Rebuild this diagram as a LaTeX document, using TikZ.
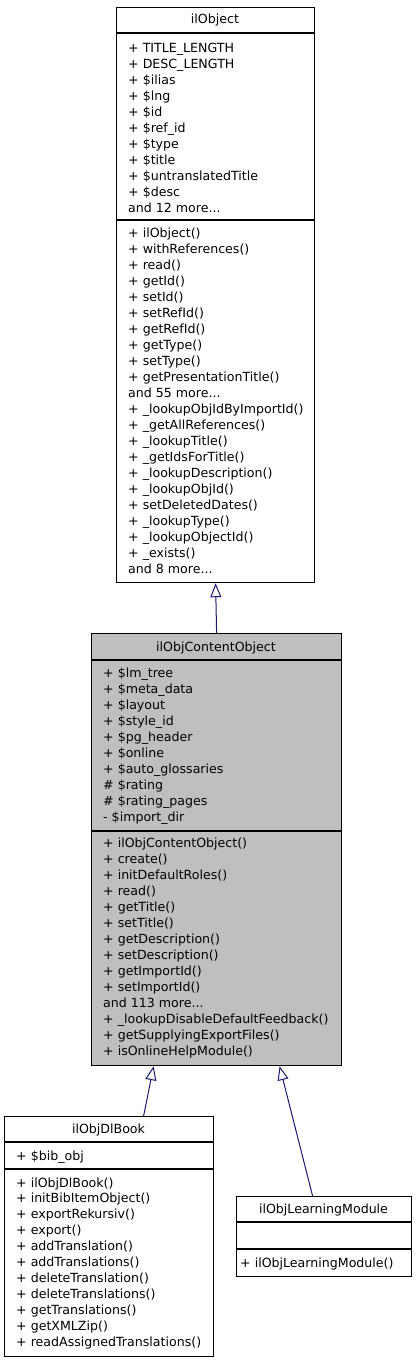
\documentclass[tikz,border=0pt]{standalone}
\usepackage{fontspec}
\setmainfont{DejaVu Sans}
\usetikzlibrary{arrows.meta}
\definecolor{edgeblue}{HTML}{191970}
\definecolor{boxgray}{HTML}{BFBFBF}
\newcommand{\tdots}{...}
\tikzset{
  classbox/.style={draw=black, line width=1.2pt, inner sep=0pt, anchor=north west},
  sepline/.style={draw=black, line width=1.2pt},
  txt/.style={anchor=base west, inner sep=0pt, font=\fontsize{12.6}{16}\selectfont},
  ttl/.style={anchor=base, inner sep=0pt, font=\fontsize{12.6}{16}\selectfont},
  inherit/.style={draw=edgeblue, line width=1pt, -{Triangle[open, length=14pt, width=11pt, line width=1pt]}},
}
\begin{document}
\begin{tikzpicture}[x=1pt, y=-1pt]
\useasboundingbox (0,0) rectangle (416,1363);
% ilObject
\node[classbox, fill=white, minimum width=198pt, minimum height=575pt] (ilo) at (116,7) {};
\draw[sepline] (ilo.west |- 0,33) -- (ilo.east |- 0,33);
\draw[sepline] (ilo.west |- 0,220) -- (ilo.east |- 0,220);
\node[ttl] (ilo-t) at (215,23) {ilObject};
\foreach \t [count=\i] in {+ TITLE\_LENGTH, + DESC\_LENGTH, + \$ilias, + \$lng, + \$id, + \$ref\_id, + \$type, + \$title, + \$untranslatedTitle, + \$desc, and 12 more\tdots}
  \node[txt] (ilo-a\i) at (128, 52+16*\i-16) {\t};
\foreach \t [count=\i] in {+ ilObject(), + withReferences(), + read(), + getId(), + setId(), + setRefId(), + getRefId(), + getType(), + setType(), + getPresentationTitle(), and 55 more\tdots, + \_lookupObjIdByImportId(), + \_getAllReferences(), + \_lookupTitle(), + \_getIdsForTitle(), + \_lookupDescription(), + \_lookupObjId(), + setDeletedDates(), + \_lookupType(), + \_lookupObjectId(), + \_exists(), and 8 more\tdots}
  \node[txt] (ilo-m\i) at (128, 237+16*\i-16) {\t};
% ilObjContentObject
\node[classbox, fill=boxgray, minimum width=250pt, minimum height=432pt] (cco) at (91,633) {};
\draw[sepline] (cco.west |- 0,660) -- (cco.east |- 0,660);
\draw[sepline] (cco.west |- 0,831) -- (cco.east |- 0,831);
\node[ttl] (cco-t) at (216,651) {ilObjContentObject};
\foreach \t [count=\i] in {+ \$lm\_tree, + \$meta\_data, + \$layout, + \$style\_id, + \$pg\_header, + \$online, + \$auto\_glossaries, \# \$rating, \# \$rating\_pages, - \$import\_dir}
  \node[txt] (cco-a\i) at (103, 677+16*\i-16) {\t};
\foreach \t [count=\i] in {+ ilObjContentObject(), + create(), + initDefaultRoles(), + read(), + getTitle(), + setTitle(), + getDescription(), + setDescription(), + getImportId(), + setImportId(), and 113 more\tdots, + \_lookupDisableDefaultFeedback(), + getSupplyingExportFiles(), + isOnlineHelpModule()}
  \node[txt] (cco-m\i) at (103, 847+16*\i-16) {\t};
% ilObjDlBook
\node[classbox, fill=white, minimum width=209pt, minimum height=240pt] (dl) at (4,1116) {};
\draw[sepline] (dl.west |- 0,1142) -- (dl.east |- 0,1142);
\draw[sepline] (dl.west |- 0,1169) -- (dl.east |- 0,1169);
\node[ttl] (dl-t) at (108.5,1133) {ilObjDlBook};
\node[txt] (dl-a1) at (16,1160) {+ \$bib\_obj};
\foreach \t [count=\i] in {+ ilObjDlBook(), + initBibItemObject(), + exportRekursiv(), + export(), + addTranslation(), + addTranslations(), + deleteTranslation(), + deleteTranslations(), + getTranslations(), + getXMLZip(), + readAssignedTranslations()}
  \node[txt] (dl-m\i) at (16, 1187+15.9*\i-15.9) {\t};
% ilObjLearningModule
\node[classbox, fill=white, minimum width=175pt, minimum height=80pt] (lm) at (236,1196) {};
\draw[sepline] (lm.west |- 0,1222) -- (lm.east |- 0,1222);
\draw[sepline] (lm.west |- 0,1249) -- (lm.east |- 0,1249);
\node[ttl] (lm-t) at (323.5,1213) {ilObjLearningModule};
\node[txt] (lm-m1) at (240,1267) {+ ilObjLearningModule()};
% inheritance
\draw[inherit] (cco.north) -- (ilo.south);
\draw[inherit] ([xshift=34.5pt]dl.north) -- ([xshift=-63pt]cco.south);
\draw[inherit] ([xshift=-11.5pt]lm.north) -- ([xshift=63pt]cco.south);
\end{tikzpicture}
\end{document}
